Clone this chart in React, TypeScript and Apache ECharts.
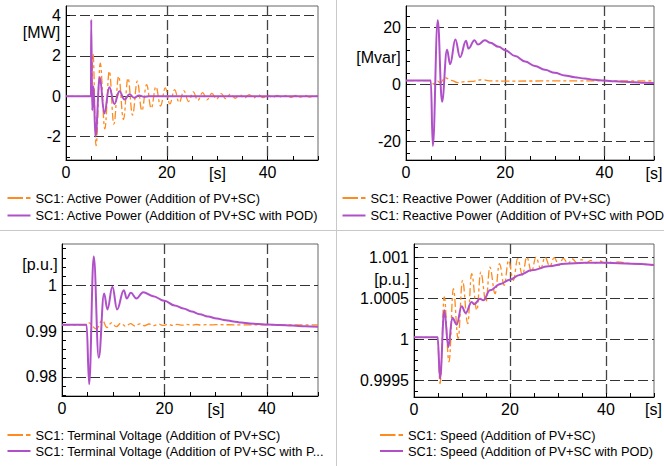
import React, { useEffect, useRef } from "react";
import * as echarts from "echarts";

const FONT = '"Liberation Sans", Arial, sans-serif';
const ORANGE = "#ff8a1f";
const PURPLE = "#b050c8";

// ---- shared time axis ----
const TIME_TICKS = [0, 5, 10, 15, 20, 25, 30, 35, 40, 45, 50];
const TIME_LABELS = [0, 20, 40];
const TIME_GRID = [20, 40];

// ---- panel 1: active power [MW] ----
const P1_Y_TICKS = [-3, -2.5, -2, -1.5, -1, -0.5, 0, 0.5, 1, 1.5, 2, 2.5, 3, 3.5, 4];
const P1_Y_LABELS = [-2, 0, 2, 4];
const P1_ORANGE = [
  [0, 0], [5.0, 0], [5.36, 2.1], [5.96, -2.45], [6.8, 1.64], [7.7, -1.62], [8.6, 1.25], [9.5, -1.38],
  [10.45, 1.0], [11.4, -1.15], [12.3, 0.9], [13.2, -0.93], [14.15, 0.75], [15.05, -0.72], [16.0, 0.58],
  [16.9, -0.6], [17.85, 0.48], [18.75, -0.48], [19.7, 0.42], [20.6, -0.38], [21.55, 0.33], [22.45, -0.31],
  [23.4, 0.27], [24.3, -0.26], [25.25, 0.22], [26.15, -0.21], [27.1, 0.18], [28.0, -0.17], [28.95, 0.15],
  [29.85, -0.14], [30.8, 0.13], [31.7, -0.12], [32.65, 0.11], [33.55, -0.1], [34.5, 0.09], [35.4, -0.09],
  [36.35, 0.08], [37.25, -0.08], [38.2, 0.07], [39.1, -0.07], [40.05, 0.06], [40.95, -0.06], [41.9, 0.05],
  [42.8, -0.05], [43.75, 0.05], [44.65, -0.05], [45.6, 0.04], [46.5, -0.04], [47.45, 0.04], [48.35, -0.04],
  [49.3, 0.03], [50, 0],
];
const P1_PURPLE = [
  [0, 0], [4.95, 0], [5.0, 3.8], [5.2, -0.7], [5.45, 0.5], [5.85, -2.0], [6.7, 0.95], [7.6, -0.85],
  [8.6, 0.45], [9.6, -0.38], [10.6, 0.25], [11.6, -0.16], [12.6, 0.1], [13.5, -0.07], [14.5, 0.04],
  [15.5, -0.02], [16.5, 0], [50, 0],
];

// ---- panel 2: reactive power [Mvar] ----
const P2_Y_TICKS = [-24, -20, -16, -12, -8, -4, 0, 4, 8, 12, 16, 20, 24];
const P2_Y_LABELS = [-20, 0, 20];
const P2_ORANGE = [
  [0, 1.4], [5.0, 1.4], [5.6, 0.2], [6.4, 1.2], [6.9, 0.6], [7.9, 2.4], [9.1, 1.5], [10.4, 0.7],
  [11.8, 1.0], [13.2, 1.1], [15.3, 1.7], [17.2, 1.3], [20, 1.2], [25, 1.25], [30, 1.3], [35, 1.3],
  [40, 1.35], [45, 1.3], [50, 1.3],
];
const P2_PURPLE = [
  [0, 1.4], [5.0, 1.4], [5.4, -21.5], [6.4, 22.5], [7.26, -6], [8.27, 12.2], [8.9, 7.1], [9.95, 15.8],
  [10.9, 9.6], [12.1, 15.3], [12.6, 12.6], [13.8, 15.5], [14.5, 14.0], [15.9, 15.5], [17, 14.6],
  [18.7, 13.2], [20, 12], [22, 10], [24, 8.1], [26, 6.5], [28, 5.2], [30, 4.1], [32, 3.2], [34, 2.6],
  [36, 2.1], [38, 1.7], [40, 1.4], [42, 1.15], [44, 0.95], [46, 0.8], [48, 0.65], [50, 0.55],
];

// ---- panel 3: terminal voltage [p.u.] ----
const P3_Y_TICKS = [0.976, 0.978, 0.98, 0.982, 0.984, 0.986, 0.988, 0.99, 0.992, 0.994, 0.996, 0.998, 1, 1.002, 1.004, 1.006, 1.008];
const P3_Y_LABELS = [0.98, 0.99, 1];
const P3_ORANGE = [
  [0, 0.99138], [4.8, 0.99138], [5.1, 0.9919], [6.7, 0.9905], [7.9, 0.9924], [8.75, 0.9908],
  [9.65, 0.99182], [10.6, 0.99098], [11.5, 0.99172], [12.45, 0.99105], [13.35, 0.99166], [14.25, 0.99112],
  [15.2, 0.9916], [16.1, 0.99118], [17.0, 0.99156], [17.95, 0.99122], [18.85, 0.99153], [19.8, 0.99125],
  [20.7, 0.9915], [21.6, 0.99128], [22.5, 0.99148], [23.5, 0.9913], [24.4, 0.99146], [25.3, 0.99132],
  [26.2, 0.99145], [27.2, 0.99134], [28.1, 0.99143], [29, 0.99135], [30, 0.99141], [35, 0.99138],
  [40, 0.99139], [50, 0.99137],
];
const P3_PURPLE = [
  [0, 0.99138], [4.8, 0.99138], [5.3, 0.9784], [6.2, 1.0063], [7.18, 0.9842], [8.22, 0.99822],
  [8.87, 0.99473], [9.85, 0.99967], [10.76, 0.99473], [12.07, 0.99895], [12.65, 0.99713], [13.44, 0.99836],
  [14.55, 0.99713], [15.85, 0.99851], [17.8, 0.99764], [20, 0.99662], [22, 0.9956], [23.7, 0.99495],
  [25.3, 0.9943], [26.9, 0.99371], [28.5, 0.9932], [30.2, 0.99276], [32, 0.9924], [33.5, 0.99211],
  [35, 0.99188], [36.7, 0.99167], [38.3, 0.99155], [40, 0.99145], [42.5, 0.99132], [45, 0.99122],
  [47.5, 0.99108], [50, 0.99095],
];

// ---- panel 4: speed [p.u.] ----
const P4_Y_TICKS = [0.999375, 0.9995, 0.999625, 0.99975, 0.999875, 1, 1.000125, 1.00025, 1.000375, 1.0005, 1.000625, 1.00075, 1.000875, 1.001, 1.001125];
const P4_Y_LABELS = [0.9995, 1, 1.0005, 1.001];
const P4_ORANGE = [
  [0, 1.0000285], [4.9, 1.0000285], [5.42, 0.999463], [6.3, 1.00052], [7.3, 0.999728], [8.2, 1.000622],
  [9.2, 1.000012], [10.1, 1.000724], [11.2, 1.000195], [12.0, 1.000805], [13.1, 1.000358], [13.9, 1.000825],
  [15.0, 1.000459], [15.8, 1.000886], [16.9, 1.000561], [17.8, 1.000927], [18.8, 1.000663], [19.7, 1.000967],
  [20.7, 1.000724], [21.6, 1.000988], [22.6, 1.000785], [23.5, 1.001008], [24.5, 1.000825], [25.4, 1.001008],
  [26.4, 1.000866], [27.3, 1.001008], [28.3, 1.000894], [29.2, 1.001], [30.2, 1.000907], [31.1, 1.000992],
  [32.1, 1.000927], [33.0, 1.000984], [34.0, 1.000935], [34.9, 1.000976], [35.9, 1.000935], [36.8, 1.000968],
  [37.8, 1.000935], [38.7, 1.00096], [39.7, 1.000935], [40.6, 1.000955], [41.5, 1.000935], [42.5, 1.00095],
  [45, 1.00093], [47.5, 1.00092], [50, 1.000905],
];
const P4_PURPLE = [
  [0, 1.0000285], [4.93, 1.0000285], [5.42, 0.999524], [6.32, 1.000358], [7.15, 0.999911], [7.99, 1.000268],
  [8.89, 1.000183], [9.93, 1.000407], [10.76, 1.000325], [12.01, 1.000459], [12.57, 1.000431], [13.75, 1.0005],
  [14.44, 1.00048], [15.83, 1.000602], [18, 1.00068], [20, 1.000732], [22, 1.00079], [24.5, 1.000846],
  [28, 1.000894], [31.5, 1.000927], [35.6, 1.000939], [40, 1.000939], [45.3, 1.000927], [50, 1.000911],
];

// ---- texts ----
const LEGEND_NAMES = [
  ["SC1: Active Power (Addition of PV+SC)", "SC1: Active Power (Addition of PV+SC with POD)"],
  ["SC1: Reactive Power (Addition of PV+SC)", "SC1: Reactive Power (Addition of PV+SC with POD)"],
  ["SC1: Terminal Voltage (Addition of PV+SC)", "SC1: Terminal Voltage (Addition of PV+SC with P..."],
  ["SC1: Speed (Addition of PV+SC)", "SC1: Speed (Addition of PV+SC with POD)"],
];
const UNIT_LABELS = ["[MW]", "[Mvar]", "[p.u.]", "[p.u.]"];
const TIME_UNIT = "[s]";

// ---- layout (positions & sizes) ----
const LAYOUT = [
  { grid: { left: 66, top: 6, width: 252, height: 154 }, yMin: -3.16, yMax: 4.48,
    unit: [41.5, 32], sUnit: [217.5, 173], legend: { x: 7.5, y: [198, 215.5] } },
  { grid: { left: 406, top: 6, width: 248, height: 154 }, yMin: -26.4, yMax: 27.5,
    unit: [378.5, 57], sUnit: [654, 173], legend: { x: 342.5, y: [198, 215.5] } },
  { grid: { left: 62, top: 244, width: 256, height: 152 }, yMin: 0.97585, yMax: 1.00902,
    unit: [40, 264], sUnit: [216, 409], legend: { x: 7.5, y: [435, 451] } },
  { grid: { left: 414, top: 244, width: 240, height: 153 }, yMin: 0.9993, yMax: 1.001167,
    unit: [392, 279], sUnit: [653.5, 409], legend: { x: 380, y: [435, 451] } },
];

const fmt = (v: number) => String(Number(Number(v).toPrecision(10)));

function buildOption() {
  const panels = [
    { yTicks: P1_Y_TICKS, yLabels: P1_Y_LABELS, orange: P1_ORANGE, purple: P1_PURPLE },
    { yTicks: P2_Y_TICKS, yLabels: P2_Y_LABELS, orange: P2_ORANGE, purple: P2_PURPLE },
    { yTicks: P3_Y_TICKS, yLabels: P3_Y_LABELS, orange: P3_ORANGE, purple: P3_PURPLE },
    { yTicks: P4_Y_TICKS, yLabels: P4_Y_LABELS, orange: P4_ORANGE, purple: P4_PURPLE },
  ];
  const grid: any[] = [];
  const xAxis: any[] = [];
  const yAxis: any[] = [];
  const series: any[] = [];
  const graphic: any[] = [];
  const gridLine = { color: "#333", width: 1, type: [10, 4] };

  panels.forEach((p, i) => {
    const L = LAYOUT[i];
    grid.push({ ...L.grid, show: true, borderColor: "#666", borderWidth: 1, containLabel: false });
    xAxis.push({
      type: "value", gridIndex: i, min: 0, max: 50,
      axisLine: { show: true, onZero: false, lineStyle: { color: "#000", width: 1 } },
      axisTick: { show: true, inside: true, length: 4, customValues: TIME_TICKS, lineStyle: { color: "#000" } },
      axisLabel: { customValues: TIME_LABELS, fontSize: 16, color: "#000", fontFamily: FONT, margin: 4, formatter: fmt },
      splitLine: { show: false },
    });
    xAxis.push({
      type: "value", gridIndex: i, min: 0, max: 50,
      axisLine: { show: false }, axisTick: { show: false, customValues: TIME_GRID },
      axisLabel: { show: false }, splitLine: { show: true, lineStyle: { ...gridLine, color: "#444", width: 1.3 } },
    });
    yAxis.push({
      type: "value", gridIndex: i, min: L.yMin, max: L.yMax,
      axisLine: { show: true, onZero: false, lineStyle: { color: "#000", width: 1 } },
      axisTick: { show: true, inside: true, length: 4, customValues: p.yTicks, lineStyle: { color: "#000" } },
      axisLabel: { customValues: p.yLabels, fontSize: 16, color: "#000", fontFamily: FONT, margin: 5, formatter: fmt },
      splitLine: { show: false },
    });
    yAxis.push({
      type: "value", gridIndex: i, min: L.yMin, max: L.yMax,
      axisLine: { show: false }, axisTick: { show: false, customValues: p.yLabels },
      axisLabel: { show: false }, splitLine: { show: true, lineStyle: gridLine },
    });
    const common = {
      type: "line", xAxisIndex: 2 * i, yAxisIndex: 2 * i, showSymbol: false, symbol: "none",
      smooth: 0.4, smoothMonotone: "x", silent: true, animation: false,
    };
    series.push({ ...common, name: LEGEND_NAMES[i][0], data: p.orange, z: 3,
      lineStyle: { color: ORANGE, width: 1.3, type: [8, 3, 3, 3] } });
    series.push({ ...common, name: LEGEND_NAMES[i][1], data: p.purple, z: 4,
      lineStyle: { color: PURPLE, width: 2 } });

    // legend rows
    const lx = L.legend.x;
    graphic.push({ type: "line", silent: true, shape: { x1: lx, y1: L.legend.y[0], x2: lx + 15.5, y2: L.legend.y[0] }, style: { stroke: ORANGE, lineWidth: 2 } });
    graphic.push({ type: "line", silent: true, shape: { x1: lx + 18.5, y1: L.legend.y[0], x2: lx + 23, y2: L.legend.y[0] }, style: { stroke: ORANGE, lineWidth: 2 } });
    graphic.push({ type: "line", silent: true, shape: { x1: lx, y1: L.legend.y[1], x2: lx + 23, y2: L.legend.y[1] }, style: { stroke: PURPLE, lineWidth: 2 } });
    [0, 1].forEach((k) => {
      graphic.push({ type: "text", silent: true, x: lx + 28, y: L.legend.y[k],
        style: { text: LEGEND_NAMES[i][k], fill: "#000", font: `12.8px ${FONT}`, align: "left", verticalAlign: "middle" } });
    });
    graphic.push({ type: "text", silent: true, x: L.unit[0], y: L.unit[1],
      style: { text: UNIT_LABELS[i], fill: "#000", font: `16px ${FONT}`, align: "center", verticalAlign: "middle" } });
    graphic.push({ type: "text", silent: true, x: L.sUnit[0], y: L.sUnit[1],
      style: { text: TIME_UNIT, fill: "#000", font: `16px ${FONT}`, align: "center", verticalAlign: "middle" } });
  });

  graphic.push({ type: "line", silent: true, shape: { x1: 0, y1: 230.5, x2: 664, y2: 230.5 }, style: { stroke: "#c8c8c8", lineWidth: 1 } });
  graphic.push({ type: "line", silent: true, shape: { x1: 336.5, y1: 0, x2: 336.5, y2: 466 }, style: { stroke: "#c8c8c8", lineWidth: 1 } });

  return {
    animation: false,
    backgroundColor: "#fff",
    textStyle: { fontFamily: FONT },
    grid, xAxis, yAxis, series, graphic,
  };
}

export default function App() {
  const ref = useRef<HTMLDivElement>(null);
  useEffect(() => {
    document.body.style.margin = "0";
    if (!ref.current) return;
    const chart = echarts.init(ref.current, undefined, { renderer: "svg" });
    chart.setOption(buildOption() as any);
    return () => chart.dispose();
  }, []);
  return <div ref={ref} style={{ width: 664, height: 466 }} />;
}
